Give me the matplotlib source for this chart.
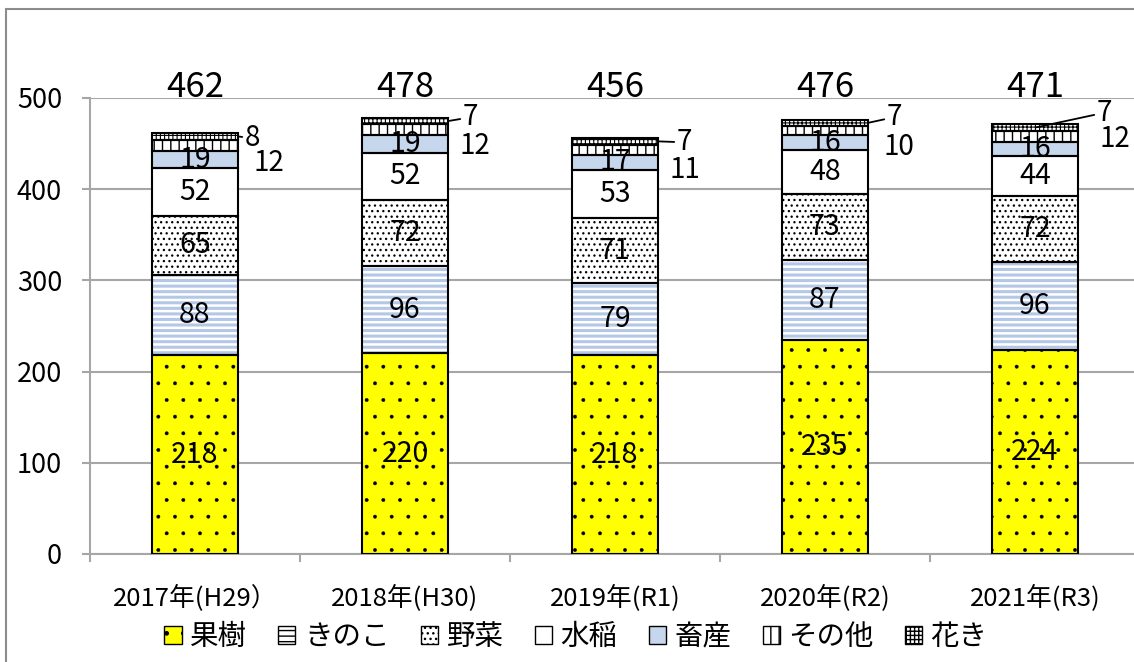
import numpy as np
import matplotlib
matplotlib.use("Agg")
import matplotlib.pyplot as plt
from matplotlib.patches import Patch, Rectangle

plt.rcParams["font.family"] = ["Noto Sans CJK JP", "DejaVu Sans"]

# ---- data ----
years = ["2017年(H29）", "2018年(H30)", "2019年(R1)", "2020年(R2)", "2021年(R3)"]
series = ["果樹", "きのこ", "野菜", "水稲", "畜産", "その他", "花き"]
kaju = [218, 220, 218, 235, 224]
kinoko = [88, 96, 79, 87, 96]
yasai = [65, 72, 71, 73, 72]
suito = [52, 52, 53, 48, 44]
chikusan = [19, 19, 17, 16, 16]
sonota = [12, 12, 11, 10, 12]
kaki = [8, 7, 7, 7, 7]
totals = [462, 478, 456, 476, 471]

values = [kaju, kinoko, yasai, suito, chikusan, sonota, kaki]

# style per series: face, hatch, hatch colour, hatch lw
styles = [
    ("#ffff00", ".", "black", 0.3),
    ("white", "---", "#b4c7e7", 2.2),
    ("white", "...", "black", 0.9),
    ("white", "", "black", 1.0),
    ("#c6d6ec", "", "black", 1.0),
    ("white", "||", "black", 1.0),
    ("white", "++++", "black", 0.8),
]

# outside label offsets (pixels) for その他 and 花き
kaki_off = [(8, -2), (16, 4), (20, -1), (20, 6), (62, 15)]
kaki_anchor_dx = [0.2, 0.2, 0.2, 0.2, 0.0]
sonota_off = [(16, -18), (12, -16), (12, -20), (16, -16), (22, -3)]

W = 0.405
GRID = "#a6a6a6"

fig = plt.figure(figsize=(11.34, 6.62), dpi=100)
ax = fig.add_axes([90 / 1134, 108 / 662, 1050 / 1134, 456 / 662])
x = np.arange(len(years))

bottom = np.zeros(len(years))
for vals, (face, hatch, hcol, hlw) in zip(values, styles):
    vals = np.array(vals)
    with plt.rc_context({"hatch.linewidth": hlw}):
        bars = ax.bar(x, vals, W, bottom=bottom, color=face, edgecolor=hcol,
                      hatch=hatch, linewidth=0, zorder=2)
    for b in bars:
        if hasattr(b, "set_hatch_linewidth"):
            b.set_hatch_linewidth(hlw)
    ax.bar(x, vals, W, bottom=bottom, fill=False, edgecolor="black",
           linewidth=1.5, zorder=3)
    bottom = bottom + vals

# labels inside segments (first five series)
cum = np.zeros(len(years))
mids = []
for vals in values:
    vals = np.array(vals)
    mids.append(cum + vals / 2)
    cum = cum + vals
for k in range(5):
    for i in x:
        ax.text(i, mids[k][i], str(values[k][i]), ha="center", va="center",
                fontsize=20.5, zorder=4)

# その他 and 花き labels outside
for i in x:
    ax.annotate(str(sonota[i]), xy=(i + W / 2, mids[5][i]),
                xytext=sonota_off[i], textcoords="offset pixels",
                ha="left", va="center", fontsize=20, annotation_clip=False)
    ax.annotate(str(kaki[i]), xy=(i + kaki_anchor_dx[i], mids[6][i]),
                xytext=kaki_off[i], textcoords="offset pixels",
                ha="left", va="center", fontsize=20, annotation_clip=False,
                arrowprops=dict(arrowstyle="-", color="black", lw=1.3,
                                shrinkA=0, shrinkB=1))

# totals above
for i in x:
    ax.text(i, 512, str(totals[i]), ha="center", va="center", fontsize=25,
            clip_on=False)

ax.set_xlim(-0.5, len(years) - 0.5)
ax.set_ylim(0, 500)
ax.set_yticks(range(0, 501, 100))
ax.yaxis.grid(True, color=GRID, linewidth=1.5, zorder=0)
ax.set_axisbelow(True)
ax.tick_params(axis="y", labelsize=19.5, length=6, width=1.5, color=GRID, pad=14)

ax.set_xticks(np.arange(-0.5, len(years), 1.0))
ax.set_xticklabels([])
ax.tick_params(axis="x", which="major", length=6, width=1.5, color=GRID)
ax.set_xticks(x, minor=True)
ax.set_xticklabels(years, minor=True)
ax.tick_params(axis="x", which="minor", length=0, labelsize=18.5, pad=22)

for s in ["top", "right"]:
    ax.spines[s].set_visible(False)
for s in ["left", "bottom"]:
    ax.spines[s].set_color(GRID)
    ax.spines[s].set_linewidth(1.5)

# legend
handles = []
for name, (face, hatch, hcol, hlw) in zip(series, styles):
    handles.append(Patch(facecolor=face, edgecolor="black", hatch=hatch,
                         linewidth=1.0, label=name))
fig.legend(handles=handles, loc="center", bbox_to_anchor=(0.508, 25 / 662),
           ncol=7, frameon=False, fontsize=20.5, handlelength=0.6,
           handleheight=0.6, handletextpad=0.3, columnspacing=1.1)

# outer chart border
fig.add_artist(Rectangle((6 / 1134, -0.5), 1.5, 1.5 - 9 / 662,
                         transform=fig.transFigure, fill=False,
                         edgecolor="#8c8c8c", linewidth=1.5))

fig.savefig("out.png", dpi=100)
